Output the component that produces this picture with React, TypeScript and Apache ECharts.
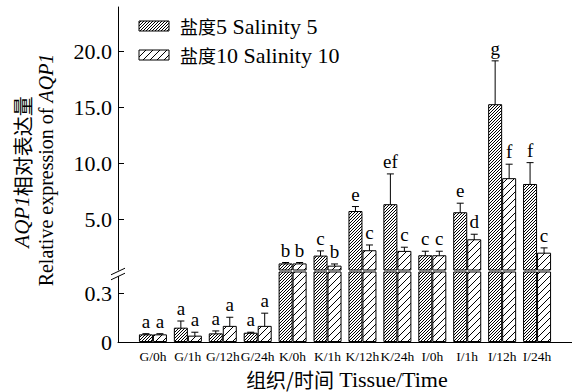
import React, { useEffect, useRef } from "react";
import * as echarts from "echarts";

// ---------------- data ----------------
const categories = ["G/0h", "G/1h", "G/12h", "G/24h", "K/0h", "K/1h", "K/12h", "K/24h", "I/0h", "I/1h", "I/12h", "I/24h"];
const sal5Values = [0.047, 0.088, 0.053, 0.057, 1.05, 1.75, 5.74, 6.35, 1.78, 5.63, 15.3, 8.16];
const sal5Errors = [0.004, 0.041, 0.015, 0.003, 0.08, 0.42, 0.4, 2.71, 0.36, 0.81, 3.88, 1.91];
const sal5Letters = ["a", "a", "a", "a", "b", "c", "e", "ef", "c", "e", "g", "f"];
const sal10Values = [0.047, 0.039, 0.099, 0.099, 1.05, 0.85, 2.23, 2.17, 1.78, 3.21, 8.68, 2.01];
const sal10Errors = [0.004, 0.021, 0.053, 0.078, 0.08, 0.15, 0.47, 0.33, 0.36, 0.45, 1.25, 0.43];
const sal10Letters = ["a", "a", "a", "a", "b", "b", "c", "c", "c", "d", "f", "c"];
const upperTicks = [5, 10, 15, 20];
const lowerTicks = [0, 0.3];
const legendCn = ["盐度", "盐度"];
const legendEn = ["5 Salinity 5", "10 Salinity 10"];
const xTitleCn = "组织/时间";
const xTitleEn = " Tissue/Time";
const yTitle1Gene = "AQP1";
const yTitle1Cn = "相对表达量";
const yTitle2En = "Relative expression of ";

// ---------------- layout ----------------
const W = 572;
const H = 392;
const GRID_LEFT = 118;
const UPPER_TOP = 7;
const UPPER_BOTTOM = 270;
const LOWER_TOP = 272;
const LOWER_BOTTOM = 342;
const UPPER_MIN = 0.46;
const UPPER_MAX = 24;
const LOWER_MAX = 0.43;
const BAR_W = 14;

const SERIF = "'Liberation Serif', 'Times New Roman', serif";
const CJK = "'Noto Sans CJK SC', sans-serif";

function makeHatch(size: number, lw: number) {
  const c = document.createElement("canvas");
  c.width = size;
  c.height = size;
  const ctx = c.getContext("2d")!;
  ctx.fillStyle = "#fff";
  ctx.fillRect(0, 0, size, size);
  ctx.strokeStyle = "#000";
  ctx.lineWidth = lw;
  ctx.beginPath();
  ctx.moveTo(0, size);
  ctx.lineTo(size, 0);
  ctx.moveTo(-1, 1);
  ctx.lineTo(1, -1);
  ctx.moveTo(size - 1, size + 1);
  ctx.lineTo(size + 1, size - 1);
  ctx.stroke();
  return { image: c, repeat: "repeat", imageWidth: size, imageHeight: size };
}

export default function App() {
  const ref = useRef<HTMLDivElement>(null);
  useEffect(() => {
    if (!ref.current) return;
    const chart = echarts.init(ref.current, undefined, { renderer: "svg" });
    const dense = makeHatch(3, 1);
    const sparse = makeHatch(7, 1);
    const axisCats = ["", ...categories, ""];
    const name5 = legendCn[0] + legendEn[0];
    const name10 = legendCn[1] + legendEn[1];

    const barSeries = (name: string, values: number[], color: any, gi: number) => ({
      type: "bar",
      name,
      xAxisIndex: gi,
      yAxisIndex: gi,
      data: ["-", ...values, "-"],
      barWidth: BAR_W,
      barGap: "0%",
      clip: true,
      silent: true,
      itemStyle: { color, borderColor: "#000", borderWidth: 1 },
    });

    const errSeries = (values: number[], errors: number[], letters: string[], offset: number, gi: number) => {
      const items: any[] = [];
      values.forEach((v, i) => {
        const inUpper = v > LOWER_MAX;
        if ((gi === 0) === inUpper) items.push({ x: i + 1, v, e: errors[i], t: letters[i] });
      });
      return {
        type: "custom",
        xAxisIndex: gi,
        yAxisIndex: gi,
        silent: true,
        encode: { x: 0, y: 1 },
        data: items.map((d) => [d.x, d.v, d.e]),
        renderItem: (params: any, api: any) => {
          const d = items[params.dataIndex];
          const top = api.coord([d.x, d.v + d.e]);
          const bot = api.coord([d.x, d.v - d.e]);
          const cx = top[0] + offset;
          const ty = top[1];
          const by = bot[1];
          const cap = 3.5;
          return {
            type: "group",
            children: [
              { type: "line", shape: { x1: cx, y1: ty, x2: cx, y2: by }, style: { stroke: "#000", lineWidth: 1 } },
              { type: "line", shape: { x1: cx - cap, y1: ty, x2: cx + cap, y2: ty }, style: { stroke: "#000", lineWidth: 1 } },
              { type: "line", shape: { x1: cx - cap, y1: by, x2: cx + cap, y2: by }, style: { stroke: "#000", lineWidth: 1 } },
              {
                type: "text",
                x: cx,
                y: ty - 3,
                style: {
                  text: `{l|${d.t}}`,
                  align: "center",
                  verticalAlign: "bottom",
                  rich: { l: { fontFamily: SERIF, fontSize: 19, fill: "#000" } },
                },
              },
            ],
          };
        },
      };
    };

    const yLabel = {
      fontSize: 22,
      fontFamily: SERIF,
      color: "#000",
      margin: 6,
    };

    // break marks geometry
    const bx = GRID_LEFT;
    const by1 = 271.5;
    const by2 = 276.5;
    const hdx = 7;
    const hdy = 3.3;

    const legendX = 139;
    const legendY = [26, 55];
    const legendFills = [dense, sparse];
    const legendGraphics: any[] = [];
    legendY.forEach((cy, i) => {
      legendGraphics.push({
        type: "rect",
        shape: { x: legendX, y: cy - 5, width: 30, height: 10 },
        style: { fill: legendFills[i], stroke: "#000", lineWidth: 1 },
      });
      legendGraphics.push({
        type: "text",
        x: legendX + 41,
        y: cy,
        style: {
          text: `{cn|${legendCn[i]}}{en|${legendEn[i]}}`,
          align: "left",
          verticalAlign: "middle",
          rich: {
            cn: { fontFamily: CJK, fontSize: 18, fill: "#000" },
            en: { fontFamily: SERIF, fontSize: 22, fill: "#000" },
          },
        },
      });
    });

    chart.setOption({
      animation: false,
      backgroundColor: "#fff",
      grid: [
        { left: GRID_LEFT, right: W - 572, top: UPPER_TOP, height: UPPER_BOTTOM - UPPER_TOP, containLabel: false, outerBoundsMode: "none" },
        { left: GRID_LEFT, right: W - 572, top: LOWER_TOP, height: LOWER_BOTTOM - LOWER_TOP, containLabel: false, outerBoundsMode: "none" },
      ],
      xAxis: [
        { type: "category", gridIndex: 0, data: axisCats, boundaryGap: false, show: false },
        {
          type: "category",
          gridIndex: 1,
          data: axisCats,
          boundaryGap: false,
          axisLine: { lineStyle: { color: "#000", width: 1 } },
          axisTick: { show: false },
          axisLabel: { interval: 0, fontSize: 13.5, fontFamily: SERIF, color: "#000", margin: 7 },
        },
      ],
      yAxis: [
        {
          type: "value",
          gridIndex: 0,
          min: UPPER_MIN,
          max: UPPER_MAX,
          splitLine: { show: false },
          axisLine: { show: true, lineStyle: { color: "#000", width: 1 } },
          axisTick: { show: true, inside: true, length: 6, lineStyle: { color: "#000" }, customValues: upperTicks },
          axisLabel: { ...yLabel, customValues: upperTicks, formatter: (v: number) => v.toFixed(1) },
        },
        {
          type: "value",
          gridIndex: 1,
          min: 0,
          max: LOWER_MAX,
          splitLine: { show: false },
          axisLine: { show: true, lineStyle: { color: "#000", width: 1 } },
          axisTick: { show: true, inside: true, length: 6, lineStyle: { color: "#000" }, customValues: lowerTicks },
          axisLabel: { ...yLabel, customValues: lowerTicks, formatter: (v: number) => (v === 0 ? "0" : v.toFixed(1)) },
        },
      ],
      graphic: [
        {
          type: "polygon",
          z: 100,
          shape: {
            points: [
              [bx - hdx, by1 + hdy],
              [bx + hdx, by1 - hdy],
              [bx + hdx, by2 - hdy],
              [bx - hdx, by2 + hdy],
            ],
          },
          style: { fill: "#fff" },
        },
        { type: "line", z: 101, shape: { x1: bx - hdx, y1: by1 + hdy, x2: bx + hdx, y2: by1 - hdy }, style: { stroke: "#000", lineWidth: 1 } },
        { type: "line", z: 101, shape: { x1: bx - hdx, y1: by2 + hdy, x2: bx + hdx, y2: by2 - hdy }, style: { stroke: "#000", lineWidth: 1 } },
        ...legendGraphics,
        {
          type: "text",
          x: (GRID_LEFT + W) / 2 + 2,
          y: 379,
          style: {
            text: `{cn|${xTitleCn}}{en|${xTitleEn}}`,
            align: "center",
            verticalAlign: "middle",
            rich: {
              cn: { fontFamily: CJK, fontSize: 20, fill: "#000" },
              en: { fontFamily: SERIF, fontSize: 22, fill: "#000" },
            },
          },
        },
        {
          type: "text",
          x: 22,
          y: 172,
          rotation: Math.PI / 2,
          style: {
            text: `{i|${yTitle1Gene}}{cn|${yTitle1Cn}}`,
            align: "center",
            verticalAlign: "middle",
            rich: {
              i: { fontFamily: SERIF, fontStyle: "italic", fontSize: 21, fill: "#000" },
              cn: { fontFamily: CJK, fontSize: 20, fill: "#000" },
            },
          },
        },
        {
          type: "text",
          x: 46,
          y: 170,
          rotation: Math.PI / 2,
          style: {
            text: `{r|${yTitle2En}}{i|${yTitle1Gene}}`,
            align: "center",
            verticalAlign: "middle",
            rich: {
              r: { fontFamily: SERIF, fontSize: 20, fill: "#000" },
              i: { fontFamily: SERIF, fontStyle: "italic", fontSize: 20, fill: "#000" },
            },
          },
        },
      ],
      series: [
        barSeries(name5, sal5Values, dense, 0),
        barSeries(name10, sal10Values, sparse, 0),
        barSeries(name5, sal5Values, dense, 1),
        barSeries(name10, sal10Values, sparse, 1),
        errSeries(sal5Values, sal5Errors, sal5Letters, -BAR_W / 2, 0),
        errSeries(sal10Values, sal10Errors, sal10Letters, BAR_W / 2, 0),
        errSeries(sal5Values, sal5Errors, sal5Letters, -BAR_W / 2, 1),
        errSeries(sal10Values, sal10Errors, sal10Letters, BAR_W / 2, 1),
      ],
    });
    return () => chart.dispose();
  }, []);
  return (
    <div
      ref={ref}
      style={{ position: "absolute", left: 0, top: 0, width: W, height: H, background: "#fff" }}
    />
  );
}
